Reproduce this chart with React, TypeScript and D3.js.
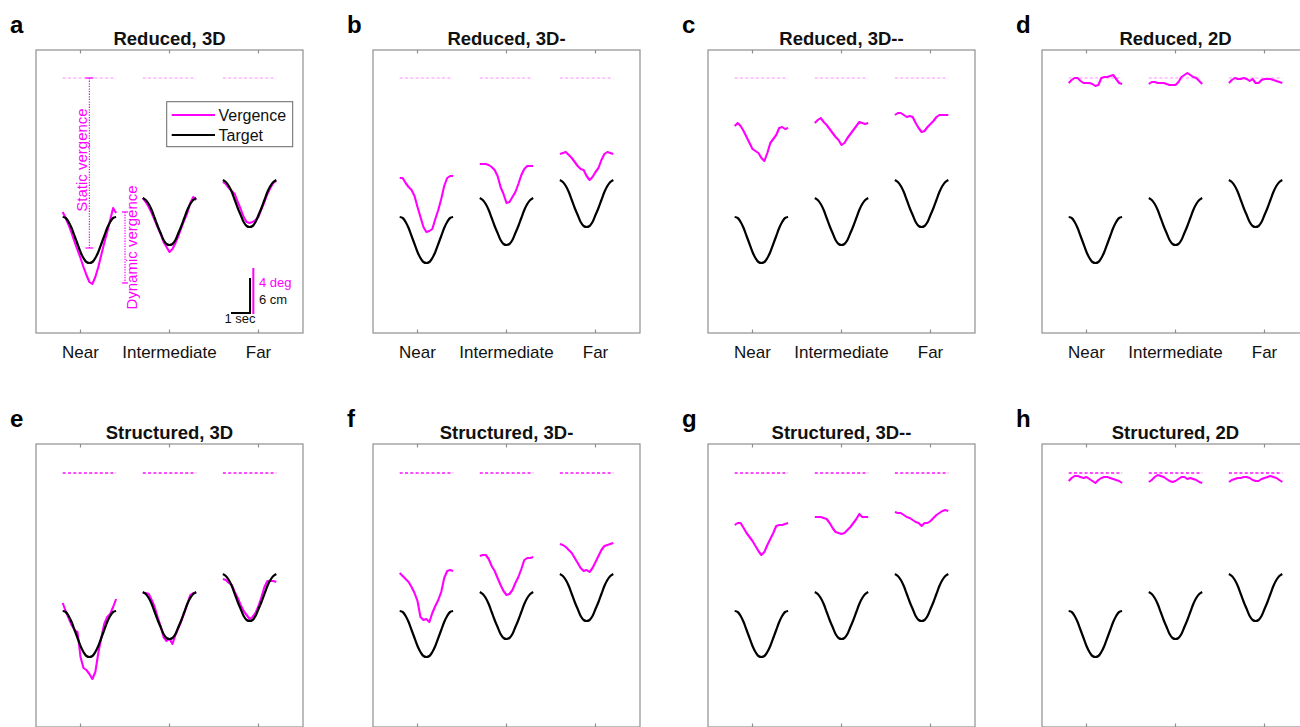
import React from 'react';
import * as d3 from 'd3';

// x: distance condition, each trace drawn over its own time window
const distances = ['Near', 'Intermediate', 'Far'];
const distanceTicks = [1, 2, 3];
const traceCenters = [1.1, 2.0, 2.9];
const traceHalfWidth = 0.3;

const panelLetters = ['a', 'b', 'c', 'd', 'e', 'f', 'g', 'h'];
const panelTitles = [
    'Reduced, 3D',
    'Reduced, 3D-',
    'Reduced, 3D--',
    'Reduced, 2D',
    'Structured, 3D',
    'Structured, 3D-',
    'Structured, 3D--',
    'Structured, 2D',
];
const staticLevels = [25.5, 25.5, 25.5, 25.5, 25.4, 25.4, 25.4, 25.4];

// target motion (same in every panel)
const targetNear = [11.6, 11.5, 11.1, 10.5, 9.7, 8.9, 8.1, 7.5, 7.1, 7.0, 7.1, 7.5, 8.1, 8.9, 9.7, 10.5, 11.1, 11.5, 11.6];
const targetIntermediate = [13.5, 13.3, 12.9, 12.3, 11.5, 10.7, 10.0, 9.3, 8.9, 8.8, 8.9, 9.3, 10.0, 10.7, 11.5, 12.3, 12.9, 13.3, 13.5];
const targetFar = [15.3, 15.1, 14.7, 14.1, 13.3, 12.5, 11.8, 11.1, 10.7, 10.6, 10.7, 11.1, 11.8, 12.5, 13.3, 14.1, 14.7, 15.1, 15.3];
const targets = [targetNear, targetIntermediate, targetFar];

// vergence traces: [near, intermediate, far]
const reduced3D = [
    [12.1, 11.5, 10.8, 10.0, 9.1, 8.3, 7.5, 6.6, 5.8, 5.1, 4.9, 5.6, 6.6, 7.8, 9.0, 10.1, 11.3, 12.5, 12.0],
    [13.5, 13.1, 12.6, 12.0, 11.3, 10.6, 9.9, 9.1, 8.6, 8.1, 8.4, 9.0, 9.7, 10.5, 11.3, 12.0, 13.0, 13.6, 13.3],
    [15.1, 14.9, 14.5, 14.2, 13.9, 13.1, 12.4, 11.6, 11.1, 11.0, 11.1, 11.3, 11.6, 12.4, 13.1, 13.9, 14.5, 15.0, 15.2],
];
const reduced3Dm = [
    [15.5, 15.5, 15.0, 14.6, 14.3, 13.7, 12.6, 11.6, 10.6, 10.1, 10.2, 10.4, 11.4, 12.3, 13.4, 14.7, 15.5, 15.7, 15.7],
    [16.9, 16.9, 16.9, 16.8, 16.6, 16.3, 15.7, 14.6, 13.9, 13.0, 13.1, 13.6, 14.1, 14.9, 15.8, 16.4, 16.7, 16.7, 16.7],
    [17.9, 18.0, 18.1, 17.8, 17.5, 17.1, 16.7, 16.4, 16.3, 15.7, 15.3, 15.6, 16.1, 16.5, 17.3, 17.9, 18.1, 18.0, 17.9],
];
const reduced3Dmm = [
    [20.7, 21.0, 20.7, 20.2, 19.6, 19.0, 18.4, 18.2, 18.0, 17.5, 17.2, 18.0, 19.0, 19.4, 19.8, 20.5, 20.6, 20.4, 20.5],
    [21.0, 21.3, 21.5, 21.1, 20.8, 20.4, 20.0, 19.6, 19.3, 18.8, 19.0, 19.5, 19.9, 20.3, 20.7, 21.1, 21.0, 20.9, 21.0],
    [21.8, 22.0, 22.0, 21.8, 21.6, 21.7, 21.6, 21.0, 20.5, 20.1, 20.2, 20.6, 20.9, 21.2, 21.6, 21.8, 21.8, 21.8, 21.8],
];
const reduced2D = [
    [25.0, 25.3, 25.5, 25.5, 25.2, 25.0, 25.0, 25.0, 24.9, 24.7, 24.8, 25.5, 25.6, 25.6, 25.7, 25.8, 25.4, 25.0, 24.9],
    [24.9, 25.1, 25.1, 25.0, 25.0, 25.0, 24.9, 24.8, 24.8, 24.8, 25.1, 25.6, 25.8, 26.0, 25.8, 25.6, 25.5, 25.2, 24.9],
    [25.0, 25.3, 25.5, 25.4, 25.4, 25.5, 25.4, 25.2, 25.4, 25.0, 25.0, 25.3, 25.4, 25.4, 25.4, 25.3, 25.2, 25.1, 25.0],
];
const structured3D = [
    [12.4, 11.6, 10.9, 10.2, 9.7, 9.5, 7.0, 5.9, 5.7, 5.3, 4.8, 5.5, 7.4, 8.9, 10.3, 11.0, 11.3, 12.0, 12.8],
    [13.4, 13.4, 13.3, 12.7, 12.0, 11.0, 10.1, 9.0, 8.6, 8.8, 8.3, 9.2, 9.9, 10.6, 11.4, 12.3, 13.2, 13.4, 13.4],
    [14.8, 14.7, 14.4, 14.2, 13.5, 12.9, 12.2, 11.6, 11.2, 10.8, 11.0, 11.4, 12.1, 13.0, 14.0, 14.6, 14.6, 14.6, 14.5],
];
const structured3Dm = [
    [15.4, 15.1, 14.8, 14.5, 14.0, 13.4, 12.6, 11.0, 10.7, 10.8, 10.5, 11.4, 12.1, 12.7, 13.5, 14.9, 15.6, 15.7, 15.6],
    [17.1, 17.2, 17.2, 16.8, 16.1, 15.6, 14.9, 14.2, 13.6, 13.2, 13.3, 13.7, 14.4, 15.0, 15.8, 16.7, 16.9, 16.9, 17.0],
    [18.3, 18.2, 18.0, 17.7, 17.4, 16.9, 16.4, 15.9, 15.6, 15.7, 15.5, 15.9, 16.5, 17.1, 17.7, 18.1, 18.2, 18.3, 18.4],
];
const structured3Dmm = [
    [20.2, 20.4, 20.4, 19.9, 19.4, 19.0, 18.6, 18.1, 17.6, 17.2, 17.5, 18.2, 18.8, 19.4, 20.1, 20.2, 20.2, 20.3, 20.4],
    [21.0, 21.0, 21.0, 20.9, 20.8, 20.4, 19.9, 19.5, 19.4, 19.3, 19.4, 19.7, 20.0, 20.4, 20.8, 21.3, 21.0, 21.0, 21.0],
    [21.5, 21.4, 21.4, 21.2, 21.0, 20.9, 20.7, 20.5, 20.4, 20.1, 20.4, 20.4, 20.6, 20.9, 21.2, 21.4, 21.6, 21.7, 21.6],
];
const structured2D = [
    [24.6, 24.9, 25.1, 25.1, 25.0, 24.9, 25.0, 24.8, 24.6, 24.4, 24.7, 24.9, 25.0, 25.0, 24.9, 24.8, 24.7, 24.6, 24.4],
    [24.5, 24.7, 25.0, 25.2, 25.1, 25.0, 24.8, 24.6, 24.5, 24.6, 24.8, 25.0, 25.0, 24.8, 24.9, 24.8, 24.7, 24.5, 24.4],
    [24.5, 24.7, 24.8, 24.9, 24.9, 25.0, 25.0, 24.9, 24.7, 24.6, 24.6, 24.8, 24.9, 25.0, 25.1, 25.0, 24.9, 24.7, 24.5],
];
const vergenceByPanel = [
    reduced3D, reduced3Dm, reduced3Dmm, reduced2D,
    structured3D, structured3Dm, structured3Dmm, structured2D,
];

// annotation of panel a
const staticBar = [25.5, 8.5];
const dynamicBar = [12.1, 5.0];

const MAGENTA = '#ff00ff';
const AXIS = '#8f8f8f';
const FONT = 'Liberation Sans, Arial, Helvetica, sans-serif';

const SVG_H = 727;
const panelLefts = [36, 373, 708, 1042];
const rowTops = [50, 444];
const W = 267;
const H = 283;

function Panel({ index }: { index: number }) {
    const col = index % 4;
    const row = Math.floor(index / 4);
    const x = d3.scaleLinear().domain([0.5, 3.5]).range([0, W]);
    const y = d3.scaleLinear().domain([0, 28.3]).range([H, 0]);
    const verg = vergenceByPanel[index];
    // bottom row runs off the picture: its tick labels are not visible
    const showLabels = rowTops[row] + H + 25 < SVG_H;

    const traceLine = (k: number, n: number) =>
        d3
            .line<number>()
            .x((_, i) => x(traceCenters[k] - traceHalfWidth + (2 * traceHalfWidth * i) / (n - 1)))
            .y((d) => y(d));

    return (
        <g transform={`translate(${panelLefts[col]}, ${rowTops[row]})`} fontFamily={FONT}>
            <text x={-26} y={-17.5} fontSize={24} fontWeight="bold" fill="#000">
                {panelLetters[index]}
            </text>
            <text x={W / 2} y={-5} fontSize={18.5} fontWeight="bold" textAnchor="middle" fill="#111">
                {panelTitles[index]}
            </text>
            <rect x={0} y={0} width={W} height={H} fill="#fff" stroke={AXIS} strokeWidth={1.2} />

            {/* static reference */}
            {traceCenters.map((c, k) => (
                <line
                    key={'s' + k}
                    x1={x(c - traceHalfWidth)}
                    x2={x(c + traceHalfWidth)}
                    y1={y(staticLevels[index])}
                    y2={y(staticLevels[index])}
                    stroke={MAGENTA}
                    strokeWidth={row === 0 ? 1 : 1.3}
                    strokeOpacity={row === 0 ? 0.45 : 0.95}
                    strokeDasharray="3,2.3"
                />
            ))}

            {verg.map((tr, k) => (
                <path
                    key={'v' + k}
                    d={traceLine(k, tr.length)(tr) || ''}
                    fill="none"
                    stroke={MAGENTA}
                    strokeWidth={2.1}
                    strokeLinejoin="round"
                />
            ))}
            {targets.map((tr, k) => (
                <path
                    key={'t' + k}
                    d={traceLine(k, tr.length).curve(d3.curveCatmullRom)(tr) || ''}
                    fill="none"
                    stroke="#000"
                    strokeWidth={2.2}
                />
            ))}

            {distanceTicks.map((t, i) => (
                <g key={'k' + i}>
                    <line x1={x(t)} x2={x(t)} y1={0} y2={3.5} stroke={AXIS} strokeWidth={1.2} />
                    <line x1={x(t)} x2={x(t)} y1={H} y2={H - 3.5} stroke={AXIS} strokeWidth={1.2} />
                    {showLabels && (
                        <text x={x(t)} y={H + 25} fontSize={17} textAnchor="middle" fill="#111">
                            {distances[i]}
                        </text>
                    )}
                </g>
            ))}

            {index === 0 && (
                <g>
                    {/* static vergence */}
                    <line x1={x(1.1)} x2={x(1.1)} y1={y(staticBar[0])} y2={y(staticBar[1])} stroke={MAGENTA} strokeWidth={1.2} strokeDasharray="1.3,1.3" />
                    {staticBar.map((v, i) => (
                        <line key={'sc' + i} x1={x(1.1) - 4} x2={x(1.1) + 4} y1={y(v)} y2={y(v)} stroke={MAGENTA} strokeWidth={1.2} />
                    ))}
                    <text transform={`translate(${x(1.1) - 2.7}, ${y(17.3)}) rotate(-90)`} fontSize={15} textAnchor="middle" fill={MAGENTA}>
                        Static vergence
                    </text>
                    {/* dynamic vergence */}
                    <line x1={x(1.5)} x2={x(1.5)} y1={y(dynamicBar[0])} y2={y(dynamicBar[1])} stroke={MAGENTA} strokeWidth={1.2} strokeDasharray="1.3,1.3" />
                    {dynamicBar.map((v, i) => (
                        <line key={'dc' + i} x1={x(1.5) - 3} x2={x(1.5) + 3} y1={y(v)} y2={y(v)} stroke={MAGENTA} strokeWidth={1.2} />
                    ))}
                    <text transform={`translate(${x(1.5) + 12.4}, ${y(8.55)}) rotate(-90)`} fontSize={15} textAnchor="middle" fill={MAGENTA}>
                        Dynamic vergence
                    </text>

                    {/* legend */}
                    <rect x={130.7} y={51.7} width={126} height={45} fill="#fff" stroke="#666" strokeWidth={1} />
                    <line x1={135.7} x2={179} y1={65} y2={65} stroke={MAGENTA} strokeWidth={2.2} />
                    <line x1={135.7} x2={179} y1={85} y2={85} stroke="#000" strokeWidth={2.2} />
                    <text x={182.5} y={71} fontSize={16} fill="#111">Vergence</text>
                    <text x={182.5} y={91} fontSize={16} fill="#111">Target</text>

                    {/* scale bars */}
                    <line x1={x(2.691)} x2={x(2.905)} y1={y(2.0)} y2={y(2.0)} stroke="#000" strokeWidth={2} />
                    <line x1={x(2.905)} x2={x(2.905)} y1={y(2.0) + 1} y2={y(5.5)} stroke="#000" strokeWidth={2} />
                    <line x1={x(2.942)} x2={x(2.942)} y1={y(2.0) + 1} y2={y(6.5)} stroke={MAGENTA} strokeWidth={2} />
                    <text x={223} y={237} fontSize={13} fill={MAGENTA}>4 deg</text>
                    <text x={223} y={253.5} fontSize={13} fill="#111">6 cm</text>
                    <text x={204} y={273} fontSize={13} textAnchor="middle" fill="#111">1 sec</text>
                </g>
            )}
        </g>
    );
}

export default function App() {
    return (
        <div style={{ position: 'absolute', left: 0, top: 0 }}>
            <svg width={1300} height={727} style={{ display: 'block', background: '#fff' }}>
                {panelTitles.map((_, i) => (
                    <Panel key={i} index={i} />
                ))}
            </svg>
        </div>
    );
}
